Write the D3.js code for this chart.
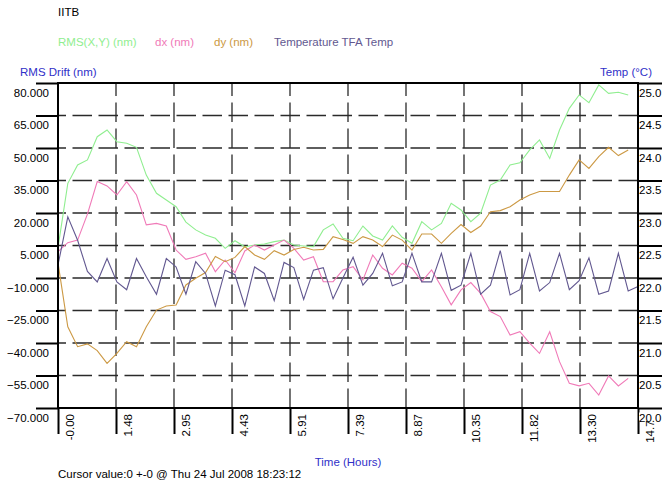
<!DOCTYPE html>
<html>
<head>
<meta charset="utf-8">
<script src="https://cdn.jsdelivr.net/npm/d3@7"></script>
<style>
  html, body { margin: 0; padding: 0; background: #fff; }
  svg { display: block; font-family: "Liberation Sans", Arial, sans-serif; }
</style>
</head>
<body>
<svg id="chart" width="665" height="484"></svg>
<script>
// ---- data ----
const times = [0, 0.25, 0.50, 0.75, 1.00, 1.25, 1.50, 1.75, 2.00, 2.25,
  2.51, 2.76, 3.01, 3.26, 3.51, 3.76, 4.01, 4.26, 4.51, 4.76,
  5.01, 5.26, 5.51, 5.76, 6.01, 6.26, 6.51, 6.76, 7.01, 7.26,
  7.52, 7.77, 8.02, 8.27, 8.52, 8.77, 9.02, 9.27, 9.52, 9.77,
  10.02, 10.27, 10.52, 10.77, 11.02, 11.27, 11.52, 11.77, 12.02, 12.27,
  12.53, 12.78, 13.03, 13.28, 13.53, 13.78, 14.03, 14.28, 14.53, 14.78];

const rms = [4, 33.7, 42.2, 44.5, 55.2, 58.3, 52.9, 52.2, 50.3, 37.5,
  29.1, 26, 22.9, 15.8, 12.2, 9.8, 8.3, 3.7, 7.2, 4.4,
  5.2, 5.7, 6.8, 7.5, 5.2, 4.8, 4.5, 12.2, 14.9, 8.3,
  7.2, 14, 9.4, 7.5, 14, 8.8, 6, 16, 12.2, 15.2,
  24.5, 21.4, 16, 19.9, 32.9, 35.2, 42.2, 43.2, 49.1, 53.7,
  45.2, 58.3, 68.3, 74.5, 70.9, 79.1, 75.2, 75.7, 74.5];

const dx = [2.2, 6.3, 7.5, 19.5, 34.5, 32.5, 28.3, 34.5, 28.3, 14.5,
  15.2, 14, 2.9, -1.4, -0.2, 1.4, -7.1, -1.7, -7.6, 2.5,
  5.2, 2.9, 5.2, 7.5, 3.7, -1.7, -0.2, -11.7, -11.7, -6.3,
  -4.8, -10.9, 0.6, -5.5, -8.6, -3.2, -5.5, -11.7, -6.3, -14,
  -22.4, -15.5, -12.1, -17.1, -25.5, -27.8, -36.3, -34.8, -40.1, -44.8,
  -34.8, -48.6, -58.6, -59.8, -58.6, -64, -55.2, -59.8, -56.3];

const dy = [-3, -32.5, -41.7, -40.4, -43.5, -49.4, -44.8, -39.4, -41.7, -32.5,
  -24.8, -22.9, -22.5, -13.2, -10.1, -7.5, -0.1, -2.5, -0.5, 4.5,
  0.6, -1.4, 2.6, 0.6, 3.2, 4.2, 2.9, 3.2, 9.1, 7.8,
  6, 9.1, 7.5, 4.5, 9.8, 7.5, 2.9, 10.3, 10.3, 6,
  10.6, 14.7, 11, 14, 20.6, 21.1, 22.9, 26, 28.3, 29.9,
  29.9, 29.9, 37.5, 44.5, 40.6, 46, 50.3, 46.5, 49.1];

const temp = [22.2, 22.94, 22.58, 22.10, 21.94, 22.30, 21.94, 21.82, 22.30, 22.02,
  21.75, 22.30, 22.17, 21.75, 22.25, 22.07, 21.57, 22.12, 22.05, 21.57,
  22.17, 22.07, 21.65, 22.24, 22.16, 21.67, 22.12, 22.16, 21.68, 22.0,
  22.32, 21.89, 22.07, 22.38, 21.88, 21.94, 22.38, 21.94, 21.94, 22.38,
  21.81, 21.89, 22.38, 21.75, 21.89, 22.42, 21.74, 21.82, 22.38, 21.80,
  21.93, 22.38, 21.82, 21.96, 22.31, 21.75, 21.80, 22.38, 21.80, 21.87];

const leftTicks = [80, 65, 50, 35, 20, 5, -10, -25, -40, -55, -70];
const rightTicks = [25.0, 24.5, 24.0, 23.5, 23.0, 22.5, 22.0, 21.5, 21.0, 20.5, 20.0];
const xTickValues = [0, 1.478, 2.956, 4.434, 5.912, 7.39, 8.868, 10.346, 11.824, 13.302, 14.78];
const xTickLabels = ["-0.00", "1.48", "2.95", "4.43", "5.91", "7.39", "8.87", "10.35", "11.82", "13.30", "14.78"];

const seriesNames = ["RMS(X,Y) (nm)", "dx (nm)", "dy (nm)", "Temperature TFA Temp"];
const seriesColors = ["#90ee90", "#f07ab8", "#cc9944", "#625890"];

// ---- layout ----
const L = 58, R = 638, T = 83, B = 408;
const svg = d3.select("#chart");
const x = d3.scaleLinear().domain([0, 14.78]).range([L, R]);
const yL = d3.scaleLinear().domain([-70, 80]).range([B, T]);
const yR = d3.scaleLinear().domain([20, 25]).range([B, T]);

const fs = 11.5;
const blue = "#3030c8";

// title & legend
svg.append("text").attr("x", 58).attr("y", 16).attr("font-size", fs).attr("fill", "#000").text("IITB");
const legendX = [58, 155, 214, 274];
seriesNames.forEach((n, i) => {
  svg.append("text").attr("x", legendX[i]).attr("y", 46).attr("font-size", fs)
    .attr("fill", seriesColors[i]).text(n);
});
svg.append("text").attr("x", 20).attr("y", 76).attr("font-size", fs).attr("fill", blue).text("RMS Drift (nm)");
svg.append("text").attr("x", 652).attr("y", 76).attr("font-size", fs).attr("fill", blue)
  .attr("text-anchor", "end").text("Temp (\u00B0C)");

// grid
const dash = "19.5,6.5";
const grid = svg.append("g").attr("stroke", "#2a2a2a").attr("stroke-width", 1.3).attr("fill", "none");
leftTicks.filter(v => v > -70 && v < 80).forEach(v => {
  grid.append("line").attr("x1", R).attr("x2", L).attr("y1", yL(v)).attr("y2", yL(v))
    .attr("stroke-dasharray", dash);
});
xTickValues.filter(v => v > 0 && v < 14.78).forEach(v => {
  grid.append("line").attr("x1", x(v)).attr("x2", x(v)).attr("y1", B).attr("y2", T)
    .attr("stroke-dasharray", dash);
});

// series
const lineL = (arr) => d3.line().x((d, i) => x(times[i])).y(d => yL(d))(arr);
const lineR = d3.line().x((d, i) => x(times[i])).y(d => yR(d));
const sg = svg.append("g").attr("fill", "none").attr("stroke-width", 1.1);
sg.append("path").attr("d", lineL(rms)).attr("stroke", seriesColors[0]);
sg.append("path").attr("d", lineL(dx)).attr("stroke", seriesColors[1]);
sg.append("path").attr("d", lineL(dy)).attr("stroke", seriesColors[2]);
sg.append("path").attr("d", lineR(temp)).attr("stroke", seriesColors[3]);

// axes
const axL = svg.append("g").attr("transform", `translate(${L},0)`)
  .call(d3.axisLeft(yL).tickValues(leftTicks).tickSize(22).tickFormat(d3.format(".3f")));
const axB = svg.append("g").attr("transform", `translate(0,${B})`)
  .call(d3.axisBottom(x).tickValues(xTickValues).tickSize(26).tickFormat((d, i) => xTickLabels[i]));
const axR = svg.append("g").attr("transform", `translate(${R},0)`)
  .call(d3.axisRight(yR).tickValues(rightTicks).tickSize(24).tickFormat(d3.format(".1f")));

[axL, axB, axR].forEach(a => {
  a.select(".domain").remove();
  a.selectAll(".tick line").attr("stroke", "#000").attr("stroke-width", 2);
  a.selectAll("text").attr("font-size", fs).attr("font-family", "Liberation Sans, Arial, sans-serif").attr("fill", "#000");
});
axL.selectAll(".tick text").attr("x", -9).attr("dy", 13);
axB.selectAll(".tick text")
  .attr("y", null).attr("dy", null)
  .attr("text-anchor", "end")
  .attr("transform", "translate(15,6) rotate(-90)");
// right labels drawn with opaque background (covers end of last x label like the original)
axR.selectAll(".tick").each(function() {
  const t = d3.select(this).select("text");
  t.attr("x", 1).attr("dy", 13).attr("text-anchor", "start");
  d3.select(this).insert("rect", "text").attr("x", 1).attr("y", 4)
    .attr("width", 26).attr("height", 8).attr("fill", "#fff");
});
axR.raise();

// plot border
svg.append("rect").attr("x", L).attr("y", T).attr("width", R - L).attr("height", B - T)
  .attr("fill", "none").attr("stroke", "#000").attr("stroke-width", 2);

// axis title & footer
svg.append("text").attr("x", (L + R) / 2).attr("y", 466).attr("font-size", fs).attr("fill", blue)
  .attr("text-anchor", "middle").text("Time (Hours)");
svg.append("text").attr("x", 58).attr("y", 478).attr("font-size", fs).attr("fill", "#000")
  .text("Cursor value:0 +-0 @ Thu 24 Jul 2008 18:23:12");
</script>
</body>
</html>
